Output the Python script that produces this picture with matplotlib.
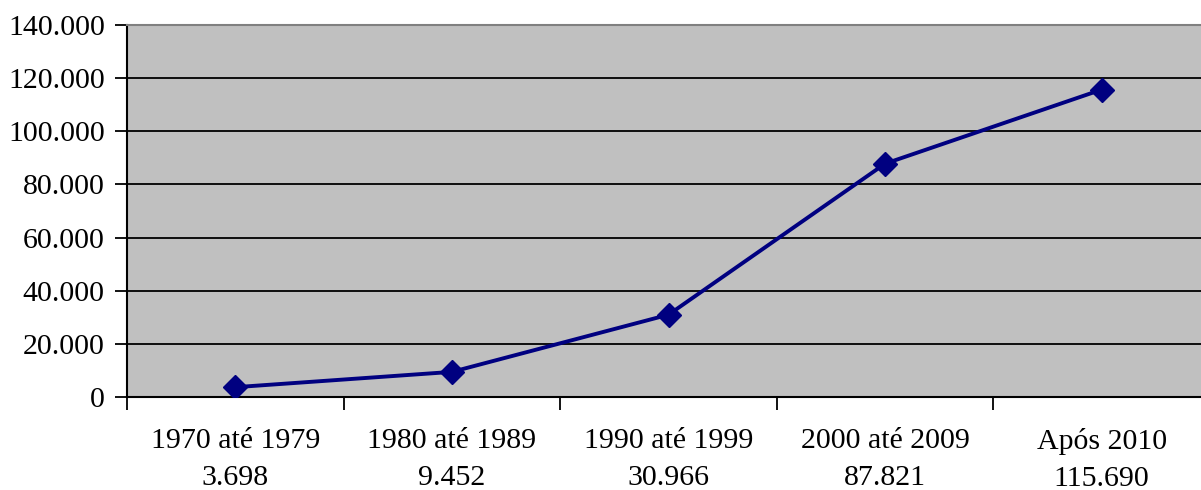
#!/usr/bin/env python3
"""Line chart of counts per decade, with value under each category label."""

import matplotlib
matplotlib.use("Agg")
import matplotlib.pyplot as plt
from matplotlib.ticker import FuncFormatter, MultipleLocator

periods = ["1970 até 1979", "1980 até 1989", "1990 até 1999", "2000 até 2009", "Após 2010"]
totals = [3698, 9452, 30966, 87821, 115690]


def pt_thousands(v, _pos=None):
    return f"{int(round(v)):,}".replace(",", ".")


plt.rcParams["font.family"] = ["Liberation Serif", "DejaVu Serif"]

fig = plt.figure(figsize=(12.01, 4.90), dpi=100)
ax = fig.add_axes([127 / 1201, 93 / 490, 1083 / 1201, 372 / 490])
ax.set_facecolor("#c0c0c0")

x = list(range(len(periods)))
ax.plot(x, totals, color="#000080", linewidth=2.8, marker="D",
        markersize=12, markerfacecolor="#000080", markeredgecolor="#000080",
        zorder=3)

ax.set_xlim(-0.5, len(periods) - 0.5)
ax.set_ylim(0, 140000)
ax.yaxis.set_major_locator(MultipleLocator(20000))
ax.yaxis.set_major_formatter(FuncFormatter(pt_thousands))
ax.grid(axis="y", color="black", linewidth=1.3)
ax.set_axisbelow(True)

# category labels carry the value on a second line; ticks sit between them
ax.set_xticks([i + 0.5 for i in x[:-1]] + [-0.5])
ax.set_xticklabels([])
ax.set_xticks(x, minor=True)
ax.set_xticklabels([f"{p}\n{pt_thousands(v)}" for p, v in zip(periods, totals)],
                   minor=True, fontsize=21.5, linespacing=1.55)
ax.tick_params(axis="x", which="minor", length=0, pad=22)
ax.tick_params(axis="x", which="major", length=9, width=1.3, color="black")
ax.tick_params(axis="y", length=9, width=1.3, labelsize=21.5, pad=7)

for side in ("left", "bottom"):
    ax.spines[side].set_color("black")
    ax.spines[side].set_linewidth(1.5)
ax.spines["top"].set_color("#808080")
ax.spines["top"].set_linewidth(1.5)
ax.spines["right"].set_visible(False)

fig.savefig("out.png", dpi=100)
